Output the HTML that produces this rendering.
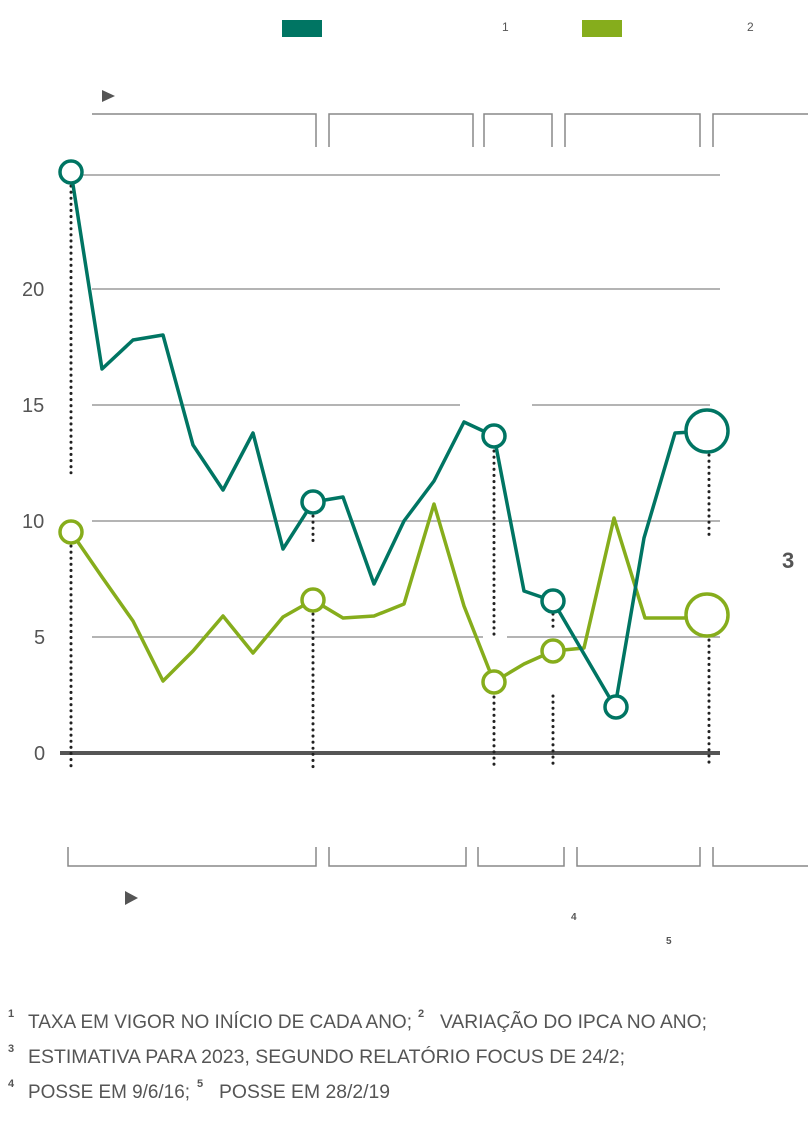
<!DOCTYPE html>
<html><head><meta charset="utf-8"><style>
body{margin:0;background:#fff;}
svg{display:block;font-family:"Liberation Sans",sans-serif;}
.fn{font-family:"Liberation Sans",sans-serif;font-size:19px;fill:#555;}
.sup{font-family:"Liberation Sans",sans-serif;font-size:11px;font-weight:bold;fill:#555;}
</style></head><body>
<svg width="808" height="1126" viewBox="0 0 808 1126">
<rect x="282" y="20" width="40" height="17" fill="#007563"/>
<rect x="582" y="20" width="40" height="17" fill="#86ad1c"/>
<text x="502" y="31" font-size="12" fill="#555">1</text>
<text x="747" y="31" font-size="12" fill="#555">2</text>
<polygon points="102,90 115,96 102,102" fill="#555"/>
<polygon points="125,891 138,898 125,905" fill="#555"/>
<g stroke="#888" stroke-width="1.5" fill="none">
<polyline points="92,114 316,114 316,147"/>
<polyline points="329,147 329,114 473,114 473,147"/>
<polyline points="484,147 484,114 552,114 552,147"/>
<polyline points="565,147 565,114 700,114 700,147"/>
<polyline points="713,147 713,114 808,114"/>
<polyline points="68,847 68,866 316,866 316,847"/>
<polyline points="329,847 329,866 466,866 466,847"/>
<polyline points="478,847 478,866 564,866 564,847"/>
<polyline points="577,847 577,866 700,866 700,847"/>
<polyline points="713,847 713,866 808,866"/>
</g>
<g stroke="#888" stroke-width="1.2">
<line x1="80" y1="175" x2="720" y2="175"/>
<line x1="92" y1="289" x2="720" y2="289"/>
<line x1="92" y1="405" x2="460" y2="405"/>
<line x1="532" y1="405" x2="710" y2="405"/>
<line x1="92" y1="521" x2="720" y2="521"/>
<line x1="92" y1="637" x2="483" y2="637"/>
<line x1="507" y1="637" x2="720" y2="637"/>
</g>
<line x1="60" y1="753" x2="720" y2="753" stroke="#555" stroke-width="4"/>
<g font-size="20" fill="#555">
<text x="22" y="296">20</text><text x="22" y="412">15</text><text x="22" y="528">10</text><text x="34" y="644">5</text><text x="34" y="760">0</text>
</g>
<text x="782" y="568" font-size="22" font-weight="bold" fill="#555">3</text>
<g stroke="#222" stroke-width="3" stroke-dasharray="0.1 6" stroke-linecap="round">
<line x1="71" y1="186" x2="71" y2="476"/><line x1="71" y1="546" x2="71" y2="768"/>
<line x1="313" y1="516" x2="313" y2="545"/><line x1="313" y1="614" x2="313" y2="768"/>
<line x1="494" y1="451" x2="494" y2="635"/><line x1="494" y1="697" x2="494" y2="768"/>
<line x1="553" y1="614" x2="553" y2="630"/><line x1="553" y1="696" x2="553" y2="768"/>
<line x1="709" y1="455" x2="709" y2="540"/><line x1="709" y1="640" x2="709" y2="768"/>
</g>
<polyline fill="none" stroke="#86ad1c" stroke-width="3.5" stroke-linejoin="round" points="71,532 102,577 133,621 163,681 193,651 223,616 253,653 283,617 313,600 343,618 374,616 404,604 434,504 464,606 494,682 524,664 553,651 584,648 614,518 645,618 684,618 708,615"/>
<polyline fill="none" stroke="#007563" stroke-width="3.5" stroke-linejoin="round" points="71,172 102,369 133,340 163,335 193,445 223,490 253,433 283,549 313,502 343,497 374,584 404,521 434,481 464,422 494,436 524,591 553,601 615,707 644,538 675,433 708,431"/>
<g fill="#fff" stroke-width="3.5">
<circle cx="71" cy="172" r="11" stroke="#007563"/>
<circle cx="313" cy="502" r="11" stroke="#007563"/>
<circle cx="494" cy="436" r="11" stroke="#007563"/>
<circle cx="553" cy="601" r="11" stroke="#007563"/>
<circle cx="616" cy="707" r="11" stroke="#007563"/>
<circle cx="707" cy="431" r="21" stroke="#007563"/>
<circle cx="71" cy="532" r="11" stroke="#86ad1c"/>
<circle cx="313" cy="600" r="11" stroke="#86ad1c"/>
<circle cx="494" cy="682" r="11" stroke="#86ad1c"/>
<circle cx="553" cy="651" r="11" stroke="#86ad1c"/>
<circle cx="707" cy="615" r="21" stroke="#86ad1c"/>
</g>
<text x="571" y="920" font-size="10" font-weight="bold" fill="#555">4</text>
<text x="666" y="944" font-size="10" font-weight="bold" fill="#555">5</text>
<text class="sup" x="8" y="1017">1</text>
<text class="fn" x="28" y="1028" textLength="384" lengthAdjust="spacingAndGlyphs">TAXA EM VIGOR NO INÍCIO DE CADA ANO;</text>
<text class="sup" x="418" y="1017">2</text>
<text class="fn" x="440" y="1028" textLength="267" lengthAdjust="spacingAndGlyphs">VARIAÇÃO DO IPCA NO ANO;</text>
<text class="sup" x="8" y="1052">3</text>
<text class="fn" x="28" y="1063" textLength="597" lengthAdjust="spacingAndGlyphs">ESTIMATIVA PARA 2023, SEGUNDO RELATÓRIO FOCUS DE 24/2;</text>
<text class="sup" x="8" y="1087">4</text>
<text class="fn" x="28" y="1098" textLength="162" lengthAdjust="spacingAndGlyphs">POSSE EM 9/6/16;</text>
<text class="sup" x="197" y="1087">5</text>
<text class="fn" x="219" y="1098" textLength="171" lengthAdjust="spacingAndGlyphs">POSSE EM 28/2/19</text>
</svg>
</body></html>
